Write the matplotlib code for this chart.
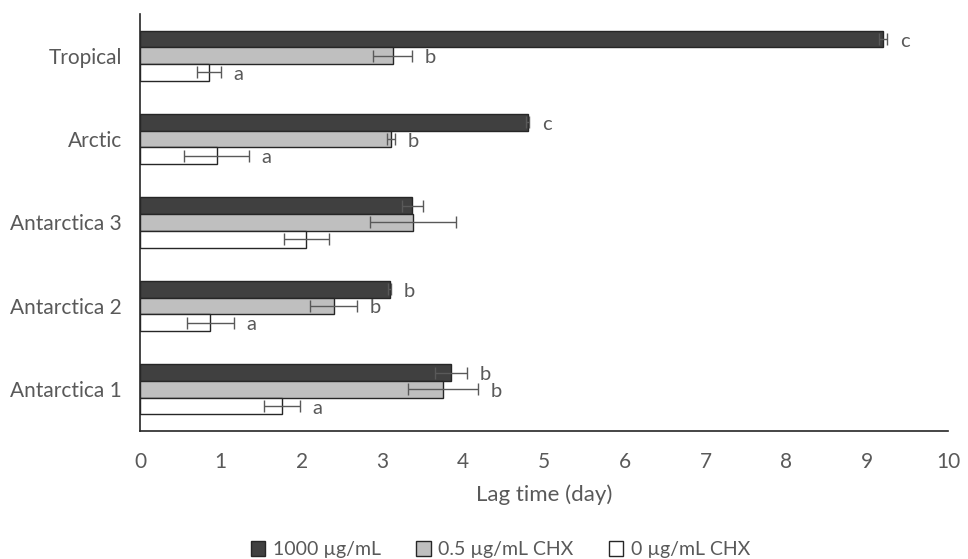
import numpy as np
import matplotlib.pyplot as plt

plt.rcParams['font.family'] = ['Lato', 'DejaVu Sans']

# data (bottom to top)
sites = ['Antarctica 1', 'Antarctica 2', 'Antarctica 3', 'Arctic', 'Tropical']
labels = ['1000 \u00b5g/mL', '0.5 \u00b5g/mL CHX', '0 \u00b5g/mL CHX']

lag_1000 = [3.85, 3.09, 3.37, 4.80, 9.20]
err_1000 = [0.20, 0.02, 0.13, 0.02, 0.05]
lag_05 = [3.75, 2.40, 3.38, 3.11, 3.13]
err_05 = [0.43, 0.29, 0.53, 0.05, 0.24]
lag_0 = [1.76, 0.87, 2.06, 0.95, 0.85]
err_0 = [0.22, 0.29, 0.28, 0.40, 0.15]

let_1000 = ['b', 'b', '', 'c', 'c']
let_05 = ['b', 'b', '', 'b', 'b']
let_0 = ['a', 'a', '', 'a', 'a']

series = [
    (lag_1000, err_1000, let_1000, '#404040', 0.2),
    (lag_05, err_05, let_05, '#bfbfbf', 0.0),
    (lag_0, err_0, let_0, '#ffffff', -0.2),
]

txt = '#595959'
fig = plt.figure(figsize=(9.68, 5.59), dpi=100)
ax = fig.add_axes([0.1446, 0.229, 0.8347, 0.746])

y = np.arange(len(sites))
for (vals, errs, lets, col, off), lab in zip(series, labels):
    ax.barh(y + off, vals, height=0.2, color=col, edgecolor='#262626',
            linewidth=1.0, label=lab, zorder=2)
    ax.errorbar(vals, y + off, xerr=errs, fmt='none', ecolor='#595959',
                elinewidth=1.0, capsize=4, capthick=1.0, zorder=3)
    for v, e, yy, l in zip(vals, errs, y + off, lets):
        if l:
            ax.annotate(l, (v + e, yy), xytext=(9, -1.5), textcoords='offset points',
                        ha='left', va='center', fontsize=14.5, color=txt)

ax.set_xlim(0, 10)
ax.set_ylim(-0.5, len(sites) - 0.5)
ax.set_xticks(range(0, 11))
ax.set_yticks(y)
ax.set_yticklabels(sites)
ax.tick_params(length=0, labelsize=15, labelcolor=txt)
ax.tick_params(axis='x', pad=15)
ax.tick_params(axis='y', pad=13)
ax.set_xlabel('Lag time (day)', fontsize=16, color=txt, labelpad=9)
for s in ['top', 'right']:
    ax.spines[s].set_visible(False)
for s in ['left', 'bottom']:
    ax.spines[s].set_color('#262626')
    ax.spines[s].set_linewidth(1.2)

fig.legend(loc='lower center', bbox_to_anchor=(0.517, -0.03), ncol=3, frameon=False,
           fontsize=14, labelcolor=txt, handlelength=0.75, handleheight=0.75,
           handletextpad=0.4, columnspacing=1.8)

fig.savefig('out.png', dpi=100)
